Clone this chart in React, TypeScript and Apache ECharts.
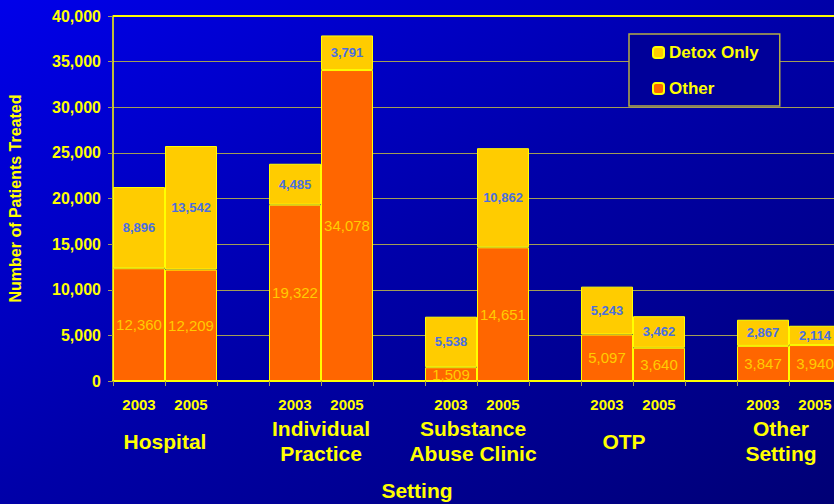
import React, { useEffect, useRef } from "react";
import * as echarts from "echarts";

const categories = ["2003", "2005", "", "2003", "2005", "", "2003", "2005", "", "2003", "2005", "", "2003", "2005"];
const groupNames = ["Hospital", "Individual\nPractice", "Substance\nAbuse Clinic", "OTP", "Other\nSetting"];
const otherValues = [12360, 12209, null, 19322, 34078, null, 1509, 14651, null, 5097, 3640, null, 3847, 3940];
const detoxValues = [8896, 13542, null, 4485, 3791, null, 5538, 10862, null, 5243, 3462, null, 2867, 2114];
const yTicks = [0, 5000, 10000, 15000, 20000, 25000, 30000, 35000, 40000];

const FONT = "'Liberation Sans', Arial, sans-serif";
const YELLOW = "#FFFF00";
const fmt = (v: number) => v.toLocaleString("en-US");

export default function App() {
  const ref = useRef<HTMLDivElement>(null);
  useEffect(() => {
    if (!ref.current) return;
    const chart = echarts.init(ref.current, null, { renderer: "svg" });
    const groupPos = groupNames.map((_, i) => 3 * i + 1);
    // small leftward nudges (px of right padding, halves to shift) to match the original label placement
    const nudge = [0, 0, 8, 18, 16];
    const groupStyle = (pad: number) => ({
      color: YELLOW,
      fontSize: 21,
      fontWeight: "bold",
      fontFamily: FONT,
      lineHeight: 25,
      padding: [0, pad, 0, 0],
    });
    const rich: Record<string, any> = {};
    nudge.forEach((p, i) => {
      rich["g" + i] = groupStyle(p);
    });
    const splitColors = yTicks.map((_, i) => (i === yTicks.length - 1 ? YELLOW : "#a39d55"));
    chart.setOption({
      animation: false,
      backgroundColor: {
        type: "linear",
        x: 0,
        y: 0,
        x2: 1,
        y2: 1,
        colorStops: [
          { offset: 0, color: "#0000EA" },
          { offset: 0.5, color: "#0000A8" },
          { offset: 1, color: "#000075" },
        ],
      },
      textStyle: { fontFamily: FONT },
      grid: { left: 113, top: 16, width: 728, height: 365, containLabel: false, outerBoundsMode: "none" },
      legend: {
        orient: "vertical",
        left: 629,
        top: 34,
        data: ["Detox Only", "Other"],
        itemWidth: 11,
        itemHeight: 11,
        itemGap: 19,
        padding: [10, 21, 9, 23],
        backgroundColor: "#000099",
        borderColor: "#b5ad45",
        borderWidth: 1.5,
        textStyle: { color: YELLOW, fontSize: 17, fontWeight: "bold", fontFamily: FONT },
      },
      xAxis: [
        {
          type: "category",
          data: categories,
          axisLine: { lineStyle: { color: YELLOW, width: 2 } },
          axisTick: { show: true, length: 5, lineStyle: { color: "#a39d55" } },
          axisLabel: {
            color: YELLOW,
            fontSize: 15,
            fontWeight: "bold",
            fontFamily: FONT,
            margin: 16,
            interval: 0,
          },
        },
        {
          type: "value",
          min: 0,
          max: categories.length,
          interval: 1,
          position: "bottom",
          axisLine: { show: false },
          axisTick: { show: false },
          splitLine: { show: false },
          axisLabel: {
            color: YELLOW,
            fontSize: 21,
            fontWeight: "bold",
            fontFamily: FONT,
            lineHeight: 25,
            margin: 60,
            verticalAlign: "middle",
            rich,
            formatter: (v: number) => {
              const i = groupPos.indexOf(v);
              if (i < 0) return "";
              return groupNames[i]
                .split("\n")
                .map((line) => `{g${i}|${line}}`)
                .join("\n");
            },
          },
        },
      ],
      yAxis: {
        type: "value",
        min: 0,
        max: 40000,
        interval: 5000,
        name: "Number of Patients Treated",
        nameLocation: "middle",
        nameGap: 90,
        nameTextStyle: { color: YELLOW, fontSize: 16, fontWeight: "bold", fontFamily: FONT },
        axisLine: { show: true, lineStyle: { color: YELLOW, width: 1.5 } },
        axisTick: { show: true, length: 5, lineStyle: { color: "#a39d55" } },
        axisLabel: {
          color: YELLOW,
          fontSize: 16,
          fontWeight: "bold",
          fontFamily: FONT,
          margin: 12,
          formatter: (v: number) => fmt(v),
        },
        splitLine: { show: true, lineStyle: { color: splitColors, width: 1 } },
      },
      graphic: [
        {
          type: "text",
          left: "center",
          top: 480,
          style: { text: "Setting", fill: YELLOW, fontSize: 21, fontWeight: "bold", fontFamily: FONT },
        },
      ],
      series: [
        {
          name: "Other",
          type: "bar",
          stack: "total",
          data: otherValues,
          barCategoryGap: "0%",
          itemStyle: { color: "#FF6600", borderColor: YELLOW, borderWidth: 1 },
          label: {
            show: true,
            position: "inside",
            color: "#FFCC00",
            fontSize: 15,
            fontFamily: FONT,
            formatter: (p: any) => fmt(p.value),
          },
        },
        {
          name: "Detox Only",
          type: "bar",
          stack: "total",
          data: detoxValues,
          barCategoryGap: "0%",
          itemStyle: { color: "#FFCC00", borderColor: YELLOW, borderWidth: 1 },
          label: {
            show: true,
            position: "inside",
            color: "#4a6fe0",
            fontSize: 13,
            fontWeight: "bold",
            fontFamily: FONT,
            formatter: (p: any) => fmt(p.value),
          },
          markLine: {
            silent: true,
            symbol: "none",
            label: { show: false },
            lineStyle: { color: YELLOW, width: 2, type: "solid" },
            data: [{ yAxis: yTicks[yTicks.length - 1] }],
          },
        },
      ],
    });
    return () => chart.dispose();
  }, []);
  return <div ref={ref} style={{ position: "absolute", left: 0, top: 0, width: 834, height: 504 }} />;
}
